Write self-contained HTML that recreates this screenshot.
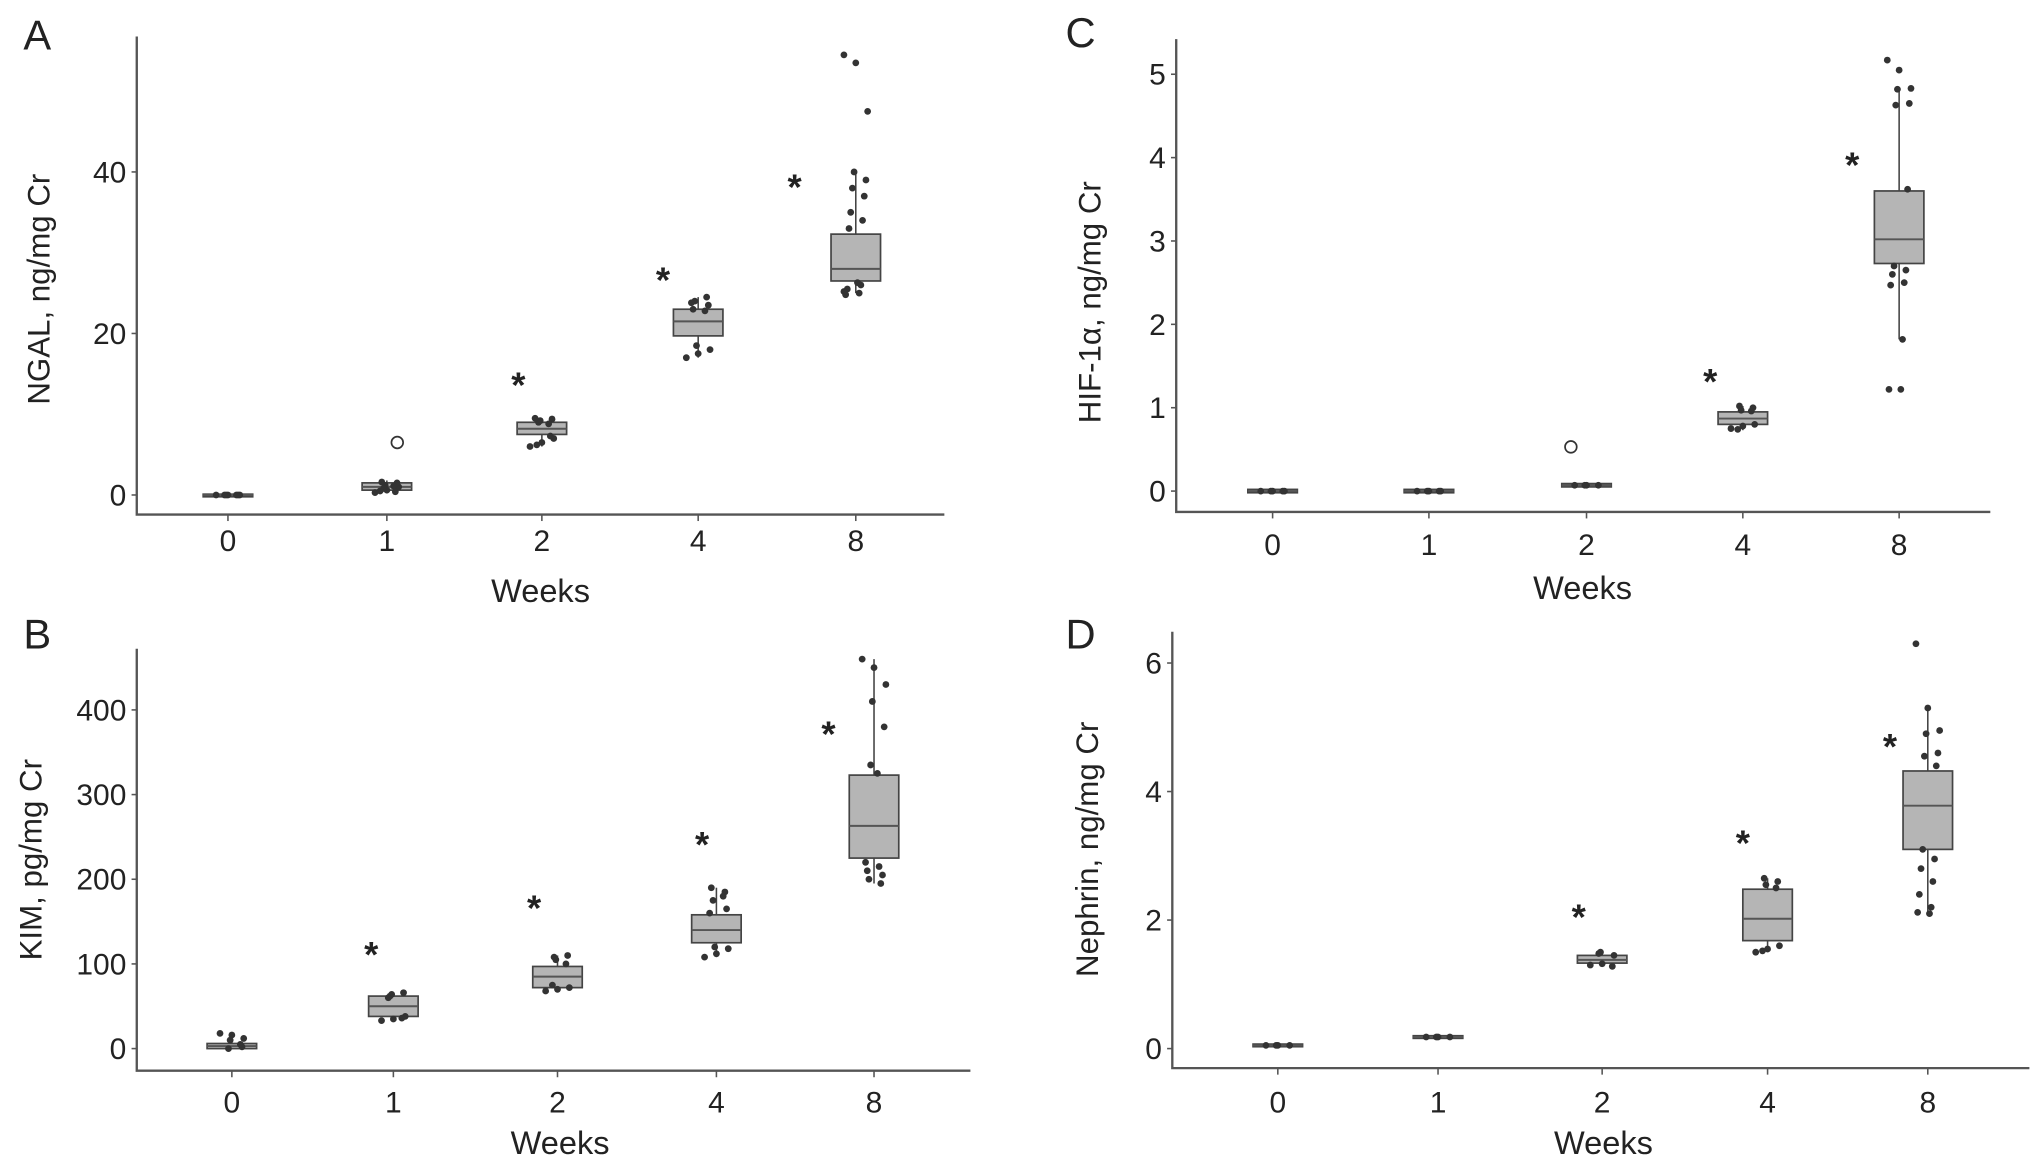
<!DOCTYPE html>
<html><head><meta charset="utf-8">
<style>
html,body{margin:0;padding:0;background:#fff;}
svg{display:block;}
text{font-family:"Liberation Sans",sans-serif;fill:#222;}
.tk{font-family:"Liberation Sans Narrow","Liberation Sans",sans-serif;font-size:23px;}
.at{font-family:"Liberation Sans Narrow","Liberation Sans",sans-serif;font-size:25px;}
.yt{font-size:24px;}
.pl{font-size:32px;}
</style></head>
<body>
<svg id="fig" width="2032" height="1161" viewBox="0 0 1560 891.3" preserveAspectRatio="none"></svg>
<script>
const categories = ["0","1","2","4","8"];
// Panel A NGAL
const ngalTicks = [0,20,40];
const ngalQ1 = [-0.1,0.6,7.5,19.7,26.5];
const ngalMed = [0,1,8.2,21.5,28];
const ngalQ3 = [0.1,1.5,9,23,32.3];
const ngalLo = [-0.1,0.2,6,17,25];
const ngalHi = [0.1,1.8,9.5,24.5,40];
const ngalStar = [null,null,14,27,38.5];
const ngalOut = [null,6.5,null,null,null];
const ngalPts = [[0,0,0,0,0,0,0],[0.3,0.6,1,1.2,1.5,0.8,0.4,1.6,1.1,0.5],[6,6.5,7,9.2,9.4,9,7.3,6.2,8.8,9.5],[17,17.5,18,18.5,23.5,24,24.5,23,22.8,23.8],[54.5,53.5,47.5,40,39,38,37,35,34,33,26,25.5,25,24.8,26.3,25.2]];
// Panel B KIM
const kimTicks = [0,100,200,300,400];
const kimQ1 = [0,38,72,125,225];
const kimMed = [3,50,85,140,263];
const kimQ3 = [6,62,97,158,323];
const kimLo = [0,33,68,108,195];
const kimHi = [18,66,110,190,460];
const kimStar = [null,115,170,245,375];
const kimPts = [[18,16,12,10,2,0,5],[33,35,38,64,66,62,36,60],[68,70,72,105,110,108,100,75],[108,112,118,120,165,175,185,190,180,160],[460,450,430,410,380,335,205,200,195,210,215,220,325]];
// Panel C HIF-1a
const hifTicks = [0,1,2,3,4,5];
const hifQ1 = [-0.02,-0.02,0.05,0.8,2.73];
const hifMed = [0,0,0.07,0.87,3.02];
const hifQ3 = [0.02,0.02,0.09,0.95,3.6];
const hifLo = [-0.02,-0.02,0.05,0.73,1.82];
const hifHi = [0.02,0.02,0.09,1.02,4.83];
const hifStar = [null,null,null,1.35,3.95];
const hifOut = [null,null,0.53,null,null];
const hifPts = [[0,0,0,0,0],[0,0,0,0,0],[0.07,0.07,0.07,0.07],[0.75,0.78,0.8,0.97,1,1.02,0.96,0.74],[5.17,5.05,4.83,4.82,4.65,4.63,3.62,2.7,2.65,2.6,2.5,2.47,1.82,1.22,1.22]];
// Panel D Nephrin
const nepTicks = [0,2,4,6];
const nepQ1 = [0.03,0.16,1.33,1.68,3.1];
const nepMed = [0.05,0.18,1.38,2.02,3.78];
const nepQ3 = [0.07,0.2,1.45,2.48,4.32];
const nepLo = [0.03,0.16,1.28,1.5,2.1];
const nepHi = [0.07,0.2,1.5,2.65,5.3];
const nepStar = [null,null,2.1,3.25,4.75];
const nepPts = [[0.05,0.05,0.05,0.05],[0.18,0.18,0.18,0.18],[1.3,1.32,1.45,1.5,1.28,1.48],[1.5,1.55,1.6,2.55,2.6,2.65,2.5,1.52],[6.3,5.3,4.95,4.9,4.6,4.55,4.4,3.1,2.95,2.8,2.6,2.4,2.2,2.12,2.1]];

const NS="http://www.w3.org/2000/svg";
const svg=document.getElementById('fig');
function mk(tag,attrs,parent){const e=document.createElementNS(NS,tag);for(const k in attrs)e.setAttribute(k,attrs[k]);(parent||svg).appendChild(e);return e;}

const panels=[
 {id:'a',letter:'A',lx:18,ly:38,ax:105,axTop:28,axB:395,axR:725,y0:380,yTop:132,vTop:40,xs:[175,297,416,536,657],sdx:[0,0,-18,-27,-47],ticks:ngalTicks,q1:ngalQ1,med:ngalMed,q3:ngalQ3,lo:ngalLo,hi:ngalHi,star:ngalStar,out:ngalOut,pts:ngalPts,title:'NGAL, ng/mg Cr',tx:38,tcy:222,wx:415,wy:462,tly:423,outDx:8},
 {id:'b',letter:'B',lx:18,ly:498,ax:105,axTop:498,axB:822,axR:745,y0:805,yTop:545,vTop:400,xs:[178,302,428,550,671],sdx:[0,-17,-18,-11,-35],ticks:kimTicks,q1:kimQ1,med:kimMed,q3:kimQ3,lo:kimLo,hi:kimHi,star:kimStar,out:null,pts:kimPts,title:'KIM, pg/mg Cr',tx:32,tcy:660,wx:430,wy:886,tly:854},
 {id:'c',letter:'C',lx:818,ly:36,ax:903,axTop:30,axB:393,axR:1528,y0:377,yTop:57,vTop:5,xs:[977,1097,1218,1338,1458],sdx:[0,0,0,-25,-36],ticks:hifTicks,q1:hifQ1,med:hifMed,q3:hifQ3,lo:hifLo,hi:hifHi,star:hifStar,out:hifOut,pts:hifPts,title:'HIF-1\u03b1, ng/mg Cr',tx:845,tcy:232,wx:1215,wy:460,tly:426,outDx:-12},
 {id:'d',letter:'D',lx:818,ly:498,ax:900,axTop:485,axB:820,axR:1558,y0:805,yTop:509,vTop:6,xs:[981,1104,1230,1357,1480],sdx:[0,0,-18,-19,-29],ticks:nepTicks,q1:nepQ1,med:nepMed,q3:nepQ3,lo:nepLo,hi:nepHi,star:nepStar,out:null,pts:nepPts,title:'Nephrin, ng/mg Cr',tx:843,tcy:652,wx:1231,wy:886,tly:854}
];

panels.forEach(p=>{
 const g=mk('g',{});
 
 
 const y=v=>p.y0-(v/p.vTop)*(p.y0-p.yTop);
 const L=mk('text',{x:p.lx,y:p.ly,'class':'pl'},g);L.textContent=p.letter;
 
 
 const axes=mk('path',{d:`M${p.ax},${p.axTop}V${p.axB}H${p.axR}`,fill:'none',stroke:'#555','stroke-width':1.8},g);
 
 
 p.ticks.forEach(t=>{
  mk('line',{x1:p.ax-4,x2:p.ax,y1:y(t),y2:y(t),stroke:'#555','stroke-width':1.2},g);
  const tt=mk('text',{x:p.ax-8,y:y(t)+8,'text-anchor':'end','class':'tk'},g);tt.textContent=t;
  
  
 });
 categories.forEach((c,i)=>{
  const x=p.xs[i];
  mk('line',{x1:x,x2:x,y1:p.axB,y2:p.axB+5,stroke:'#555','stroke-width':1.2},g);
  const tt=mk('text',{x:x,y:p.tly,'text-anchor':'middle','class':'tk'},g);tt.textContent=c;
  
  
  const bw=38;
  const wh=mk('line',{x1:x,x2:x,y1:y(p.lo[i]),y2:y(p.hi[i]),stroke:'#444','stroke-width':1.2},g);
  
  
  const bx=mk('rect',{x:x-bw/2,y:y(p.q3[i]),width:bw,height:Math.max(y(p.q1[i])-y(p.q3[i]),2),fill:'#b5b5b5',stroke:'#444','stroke-width':1.3},g);
  
  
  const md=mk('line',{x1:x-bw/2,x2:x+bw/2,y1:y(p.med[i]),y2:y(p.med[i]),stroke:'#555','stroke-width':1.5},g);
  
  
  p.pts[i].forEach((v,j)=>{
   const dx=((j*7)%15-7)*1.3;
   const pt=mk('circle',{cx:x+dx,cy:y(v),r:2.6,fill:'#333'},g);
   
   
  });
  if(p.out&&p.out[i]!=null){
   const o=mk('circle',{cx:x+p.outDx,cy:y(p.out[i]),r:4.5,fill:'#fff',stroke:'#333','stroke-width':1.3},g);
   
   
  }
  if(p.star[i]!=null){
   const s=mk('text',{x:x+p.sdx[i],y:y(p.star[i])+12,'text-anchor':'middle','font-size':'28','font-weight':'bold'},g);s.textContent='*';
   
   
  }
 });
 const xt=mk('text',{x:p.wx,y:p.wy,'text-anchor':'middle','class':'at'},g);xt.textContent='Weeks';
 
 
 const yt=mk('text',{x:0,y:0,'text-anchor':'middle','class':'yt',transform:`translate(${p.tx},${p.tcy}) rotate(-90)`},g);yt.textContent=p.title;
 
 
});
</script>
</body></html>
